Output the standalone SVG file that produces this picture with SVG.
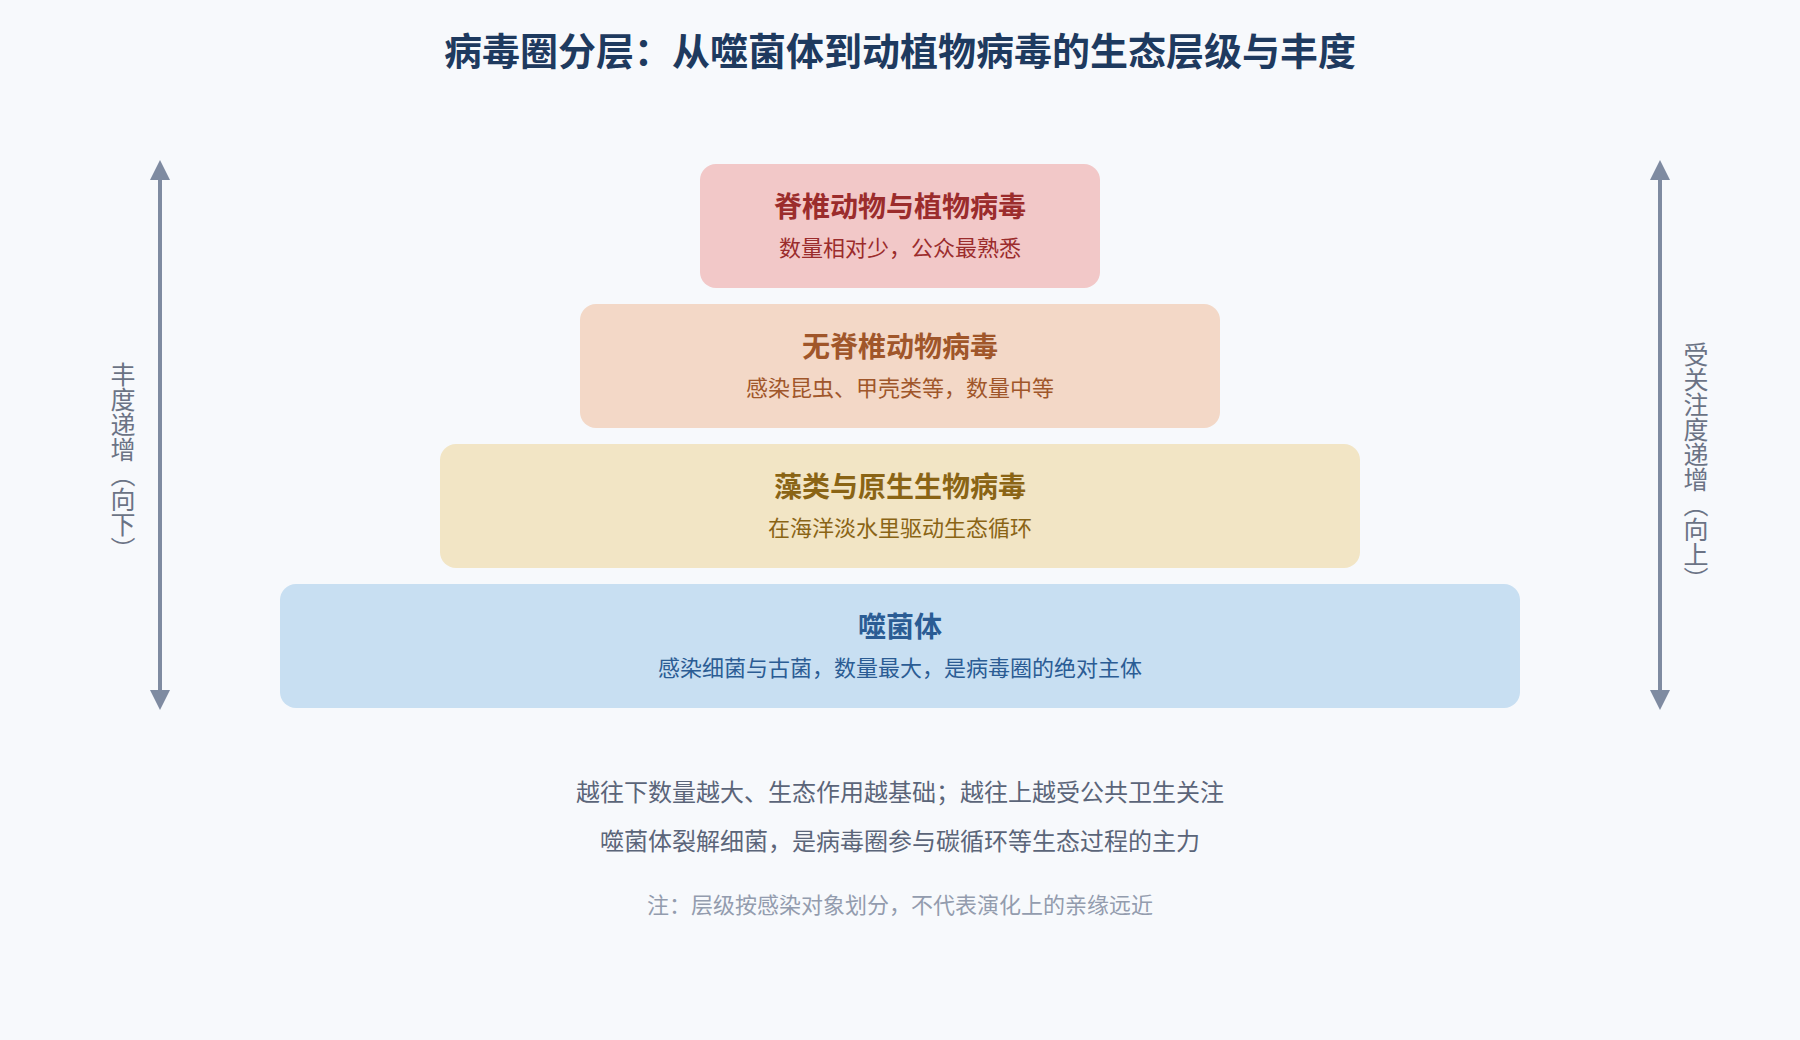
<svg xmlns="http://www.w3.org/2000/svg" width="1800" height="1040" viewBox="0 0 1800 1040">
<defs>
<style>
text{font-family:"Noto Sans CJK SC","Noto Sans",sans-serif;}
.title{font-size:38px;font-weight:700;fill:#1e3a5f;text-anchor:middle;}
.lt{font-size:28px;font-weight:700;text-anchor:middle;}
.ls{font-size:22px;text-anchor:middle;}
.side{font-size:25px;fill:#6b7385;writing-mode:vertical-rl;text-anchor:middle;}
.note{font-size:24px;fill:#5b6579;text-anchor:middle;}
.note2{font-size:22px;fill:#939cae;text-anchor:middle;}
.axis{stroke:#7f8ba1;stroke-width:4;fill:none;}
</style>
<marker id="ah" viewBox="0 0 10 10" refX="0" refY="5" markerWidth="5" markerHeight="5" orient="auto-start-reverse" markerUnits="strokeWidth">
<path d="M0,0 L10,5 L0,10 Z" fill="#7f8ba1"/>
</marker>
</defs>
<rect width="1800" height="1040" fill="#f7f9fc"/>
<text class="title" x="900" y="65">病毒圈分层：从噬菌体到动植物病毒的生态层级与丰度</text>
<g id="connectors">
<line class="axis" x1="160" y1="180" x2="160" y2="690" marker-start="url(#ah)" marker-end="url(#ah)"/>
<line class="axis" x1="1660" y1="180" x2="1660" y2="690" marker-start="url(#ah)" marker-end="url(#ah)"/>
</g>
<g id="axis-left-label"><text class="side" x="123" y="462">丰度递增（向下）</text></g>
<g id="axis-right-label"><text class="side" x="1696" y="467">受关注度递增（向上）</text></g>
<g id="layer-vertebrate">
<rect x="700" y="164" width="400" height="124" rx="16" fill="#f2c8c8"/>
<text class="lt" x="900" y="217" fill="#9b2c2c">脊椎动物与植物病毒</text>
<text class="ls" x="900" y="256" fill="#9b2c2c">数量相对少，公众最熟悉</text>
</g>
<g id="layer-invertebrate">
<rect x="580" y="304" width="640" height="124" rx="16" fill="#f3d8c7"/>
<text class="lt" x="900" y="357" fill="#a0562a">无脊椎动物病毒</text>
<text class="ls" x="900" y="396" fill="#a0562a">感染昆虫、甲壳类等，数量中等</text>
</g>
<g id="layer-algae">
<rect x="440" y="444" width="920" height="124" rx="16" fill="#f2e5c5"/>
<text class="lt" x="900" y="497" fill="#8a6415">藻类与原生生物病毒</text>
<text class="ls" x="900" y="536" fill="#8a6415">在海洋淡水里驱动生态循环</text>
</g>
<g id="layer-phage">
<rect x="280" y="584" width="1240" height="124" rx="16" fill="#c8dff2"/>
<text class="lt" x="900" y="637" fill="#2b5c94">噬菌体</text>
<text class="ls" x="900" y="676" fill="#2b5c94">感染细菌与古菌，数量最大，是病毒圈的绝对主体</text>
</g>
<g id="notes">
<text class="note" x="900" y="801">越往下数量越大、生态作用越基础；越往上越受公共卫生关注</text>
<text class="note" x="900" y="850">噬菌体裂解细菌，是病毒圈参与碳循环等生态过程的主力</text>
<text class="note2" x="900" y="913">注：层级按感染对象划分，不代表演化上的亲缘远近</text>
</g>
</svg>
